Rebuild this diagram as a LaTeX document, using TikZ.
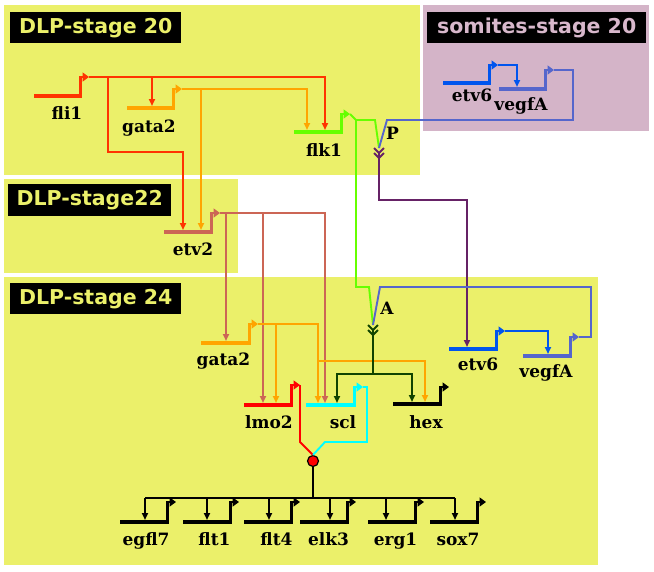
\documentclass[tikz,border=0pt]{standalone}
\usepackage{fontspec}
\setmainfont{DejaVu Serif}
\newfontfamily\titlefont{DejaVu Sans}
\usetikzlibrary{arrows.meta}
\definecolor{bgyellow}{RGB}{235,240,106}
\definecolor{bgmauve}{RGB}{212,180,200}
\definecolor{tyellow}{RGB}{235,240,106}
\definecolor{tmauve}{RGB}{216,184,204}
\definecolor{cfli}{RGB}{255,51,0}
\definecolor{cgata}{RGB}{255,165,0}
\definecolor{cflk}{RGB}{102,255,0}
\definecolor{cetvtwo}{RGB}{204,102,85}
\definecolor{cpurple}{RGB}{102,34,102}
\definecolor{cetvsix}{RGB}{0,85,238}
\definecolor{cvegf}{RGB}{85,102,204}
\definecolor{clmo}{RGB}{255,0,0}
\definecolor{cscl}{RGB}{0,255,255}
\definecolor{cdkgreen}{RGB}{17,68,0}
\tikzset{
  genebar/.style={line width=3.6pt},
  promo/.style={line width=2.8pt, -{Triangle[length=6.5pt,width=9pt]}},
  regl/.style={line width=1.9pt},
  rega/.style={regl, -{Triangle[length=7pt,width=6pt]}},
  glabel/.style={font=\bfseries\fontsize{17}{19}\selectfont, inner sep=0pt, anchor=base},
  stitle/.style={fill=black, font=\titlefont\bfseries\fontsize{20.5}{22}\selectfont, anchor=north west, minimum height=31pt, inner sep=0pt},
}
\newcommand{\mkgene}[6]{%
  \coordinate (#1-l) at (#2,#4);
  \coordinate (#1-r) at (#3,#4);
  \coordinate (#1-v) at ({#3-1.5},#5);
  \coordinate (#1-p) at ({#3+7},#5);
  \draw[genebar,#6] (#1-l) -- (#1-r);
  \draw[promo,#6] ({#3-1.5},{#4+1.5}) -- (#1-v) -- (#1-p);
}
\begin{document}
\begin{tikzpicture}[x=1pt,y=-1pt]
\useasboundingbox (0,0) rectangle (654,571);
% stage boxes
\fill[bgyellow] (4,5) rectangle (420,175);
\fill[bgmauve] (423,5) rectangle (649,131);
\fill[bgyellow] (4,179) rectangle (238,273);
\fill[bgyellow] (4,277) rectangle (598,565);
\node[stitle, text=tyellow, minimum width=171pt] (t20) at (10,12) {DLP-stage 20};
\node[stitle, text=tmauve, minimum width=219pt] (tsom) at (427,12) {somites-stage 20};
\node[stitle, text=tyellow, minimum width=163pt, minimum height=32pt] (t22) at (8,184) {DLP-stage22};
\node[stitle, text=tyellow, minimum width=171pt] (t24) at (10,283) {DLP-stage 24};
% junctions
\coordinate (P) at (379,148);
\coordinate (A) at (373,325);
% ---- stage 20
\mkgene{fli1}{34}{82}{96}{77}{cfli}
\mkgene{gataA}{127}{175}{108}{89}{cgata}
\mkgene{flk1}{294}{343}{132}{114}{cflk}
\node[glabel] (fli1-t) at (67,119) {fli1};
\node[glabel] (gataA-t) at (149,132) {gata2};
\node[glabel] (flk1-t) at (324,156) {flk1};
\draw[rega,cfli] (fli1-p) -- (325,77) -- (325,130);
\draw[rega,cfli] (152,77) -- (152,106);
\draw[rega,cfli] (108,77) -- (108,152) -- (183,152) -- (183,230);
\draw[rega,cgata] (gataA-p) -- (307,89) -- (307,130);
\draw[rega,cgata] (201,89) -- (201,230);
\draw[regl,cflk] (flk1-p) -- (356,120) -- (375,120) -- (P);
\draw[regl,cflk] (356,120) -- (356,287) -- (369,287) -- (A);
% ---- somites
\mkgene{etvS}{443}{491}{83}{65}{cetvsix}
\mkgene{vegS}{499}{547}{89}{70}{cvegf}
\node[glabel] (etvS-t) at (472,101) {etv6};
\node[glabel] (vegS-t) at (521,110) {vegfA};
\draw[rega,cetvsix] (etvS-p) -- (517,65) -- (517,87);
\draw[regl,cvegf] (vegS-p) -- (573,70) -- (573,120) -- (387,120) -- (P);
% P junction
\draw[regl,cpurple] (374,148) -- (379,153) -- (384,148) (374,153) -- (379,158) -- (384,153);
\node[glabel] (Pt) at (392.5,139) {P};
\draw[rega,cpurple] (379,153) -- (379,200) -- (467,200) -- (467,347);
% ---- stage 22
\mkgene{etv2}{164}{213}{232}{213}{cetvtwo}
\node[glabel] (etv2-t) at (193,255) {etv2};
\draw[rega,cetvtwo] (etv2-p) -- (325,213) -- (325,403);
\draw[rega,cetvtwo] (226,213) -- (226,341);
\draw[rega,cetvtwo] (263,213) -- (263,403);
% ---- stage 24
\mkgene{gataB}{201}{251}{343}{324}{cgata}
\node[glabel] (gataB-t) at (223.5,365) {gata2};
\draw[rega,cgata] (gataB-p) -- (318,324) -- (318,403);
\draw[rega,cgata] (276,324) -- (276,403);
\draw[rega,cgata] (318,361) -- (425,361) -- (425,402);
\mkgene{lmo2}{244}{293}{405}{385}{clmo}
\mkgene{scl}{306}{356}{405}{387}{cscl}
\mkgene{hex}{393}{442}{404}{387}{black}
\node[glabel] (lmo2-t) at (269,428) {lmo2};
\node[glabel] (scl-t) at (343,428) {scl};
\node[glabel] (hex-t) at (426,428) {hex};
% A junction
\draw[regl,cdkgreen] (368,325) -- (373,330) -- (378,325) (368,330) -- (373,335) -- (378,330);
\node[glabel] (At) at (387,314) {A};
\draw[regl,cdkgreen] (373,330) -- (373,374);
\draw[rega,cdkgreen] (373,374) -| (337,403);
\draw[rega,cdkgreen] (373,374) -| (412,402);
\mkgene{etvB}{449}{498}{349}{331}{cetvsix}
\mkgene{vegB}{523}{572}{356}{337}{cvegf}
\node[glabel] (etvB-t) at (478,370) {etv6};
\node[glabel] (vegB-t) at (546,377) {vegfA};
\draw[rega,cetvsix] (etvB-p) -- (548,331) -- (548,354);
\draw[regl,cvegf] (vegB-p) -- (591,337) -- (591,287) -- (380,287) -- (A);
% combination dot
\node[circle, fill=clmo, draw=black, line width=1.2pt, minimum size=11pt, inner sep=0pt] (dot) at (313,461) {};
\draw[regl,clmo] (lmo2-p) -- (300,386) -- (300,442) -- (dot.north);
\draw[regl,cscl] (scl-p) -- (367,387) -- (367,442) -- (325,442) -- (dot.north);
\draw[regl] (dot.south) -- (313,498);
\draw[regl] (145,498) -- (455,498);
\foreach \n/\l/\ax/\lx in {egfl7/120/145/146, flt1/183/207/214.5, flt4/244/269/276.5, elk3/300/330/328.5, erg1/368/386/395.5, sox7/430/455/458} {
  \mkgene{\n}{\l}{\l+49}{522}{502}{black}
  \draw[rega] (\ax,498) -- (\ax,520);
  \node[glabel] (\n-t) at (\lx,545) {\n};
}
\end{tikzpicture}
\end{document}
